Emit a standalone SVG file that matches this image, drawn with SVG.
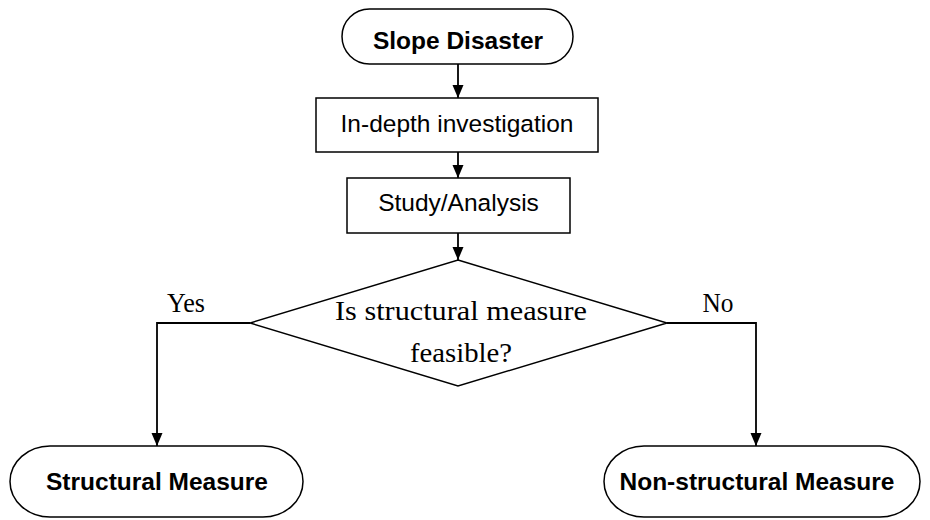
<svg xmlns="http://www.w3.org/2000/svg" width="930" height="520" viewBox="0 0 930 520">
<defs>
<marker id="arr" markerWidth="12" markerHeight="13" refX="13" refY="6" orient="auto" markerUnits="userSpaceOnUse">
<path d="M0,0.5 L13,6 L0,11.5 z" fill="#000"/>
</marker>
<style>
.shape{fill:#fff;stroke:#000;stroke-width:1.5}
.conn{fill:none;stroke:#000;stroke-width:1.8;marker-end:url(#arr)}
.sans{font-family:"Liberation Sans",Arial,sans-serif;font-size:24.5px;fill:#000;text-anchor:middle}
.bold{font-weight:bold}
.serif{font-family:"Liberation Serif","Times New Roman",serif;font-size:27px;fill:#000;text-anchor:middle}
</style>
</defs>
<rect width="930" height="520" fill="#fff"/>
<g id="connectors">
<line class="conn" x1="458" y1="64" x2="458" y2="98"/>
<line class="conn" x1="458" y1="152" x2="458" y2="178"/>
<line class="conn" x1="458" y1="233" x2="458" y2="260"/>
<polyline class="conn" points="250,323 157,323 157,446"/>
<polyline class="conn" points="667,323 756,323 756,446"/>
<text class="serif" x="186" y="312" textLength="38" lengthAdjust="spacingAndGlyphs">Yes</text>
<text class="serif" x="718" y="312" textLength="31" lengthAdjust="spacingAndGlyphs">No</text>
</g>
<g id="slope-disaster">
<rect class="shape" x="342" y="9" width="231" height="55" rx="27.5" ry="27.5"/>
<text class="sans bold" x="458" y="49">Slope Disaster</text>
</g>
<g id="in-depth">
<rect class="shape" x="316" y="98" width="282" height="54"/>
<text class="sans" x="457" y="132">In-depth investigation</text>
</g>
<g id="study">
<rect class="shape" x="347" y="178" width="223" height="55"/>
<text class="sans" x="458.5" y="211">Study/Analysis</text>
</g>
<g id="decision">
<polygon class="shape" points="458,260 667,323 458,386 250,323"/>
<text class="serif" x="461" y="320" textLength="252" lengthAdjust="spacingAndGlyphs">Is structural measure</text>
<text class="serif" x="461" y="362" textLength="102" lengthAdjust="spacingAndGlyphs">feasible?</text>
</g>
<g id="structural">
<rect class="shape" x="10" y="446" width="293" height="71" rx="40" ry="35.5"/>
<text class="sans bold" x="157" y="490">Structural Measure</text>
</g>
<g id="non-structural">
<rect class="shape" x="604" y="446" width="316" height="71" rx="40" ry="35.5"/>
<text class="sans bold" x="757" y="490">Non-structural Measure</text>
</g>
</svg>
